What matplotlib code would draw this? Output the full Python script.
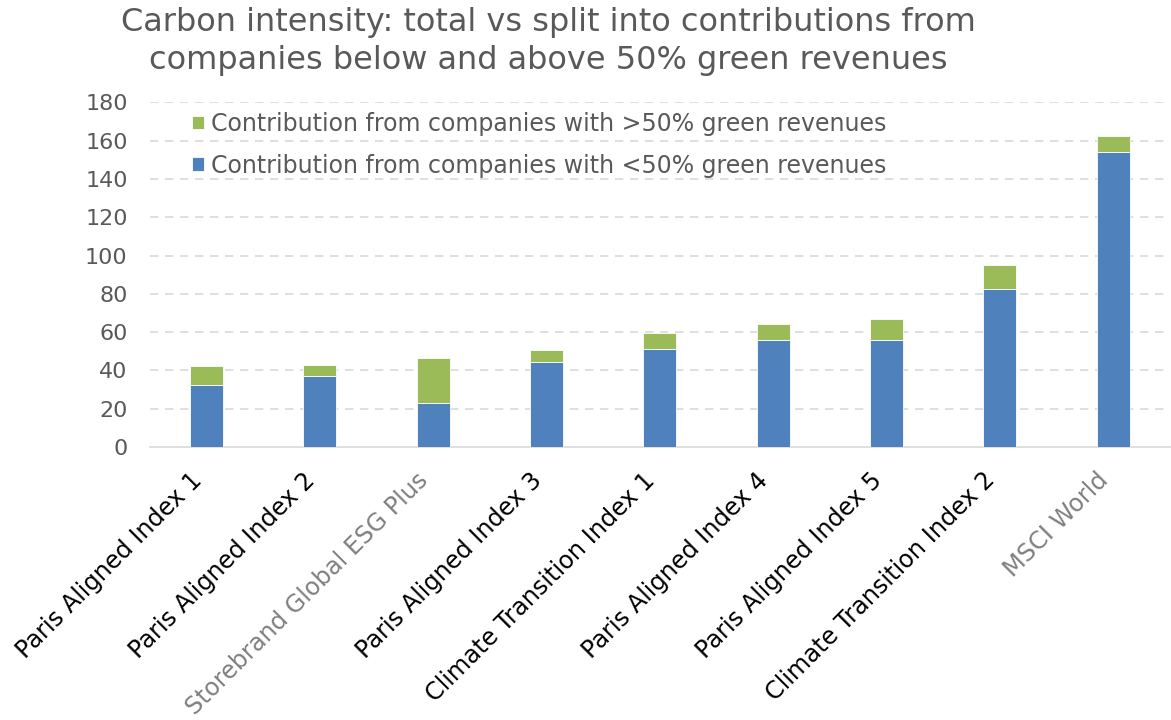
import matplotlib
matplotlib.use("Agg")
import matplotlib.pyplot as plt
import numpy as np

categories = ["Paris Aligned Index 1", "Paris Aligned Index 2", "Storebrand Global ESG Plus",
              "Paris Aligned Index 3", "Climate Transition Index 1", "Paris Aligned Index 4",
              "Paris Aligned Index 5", "Climate Transition Index 2", "MSCI World"]
below_50 = [32.5, 37.0, 22.8, 44.3, 51.1, 55.7, 55.7, 82.3, 154.1]
above_50 = [10.0, 6.1, 23.8, 6.3, 8.4, 8.3, 11.3, 13.0, 8.5]
label_colors = ["black", "black", "#7f7f7f", "black", "black", "black", "black", "black", "#7f7f7f"]
yticks = [0, 20, 40, 60, 80, 100, 120, 140, 160, 180]

plt.rcParams['font.family'] = ['DejaVu Sans']
fig = plt.figure(figsize=(11.71, 7.2), dpi=100)
ax = fig.add_axes([0.128, 0.379, 0.871, 0.479])

x = np.arange(len(categories))
w = 0.29
ax.bar(x, below_50, width=w, color="#4f81bd", edgecolor="white", linewidth=0.6,
       label="Contribution from companies with <50% green revenues", zorder=3)
ax.bar(x, above_50, width=w, bottom=below_50, color="#9bbb59", edgecolor="white", linewidth=0.6,
       label="Contribution from companies with >50% green revenues", zorder=3)

ax.set_xlim(-0.5, len(categories) - 0.5)
ax.set_ylim(0, 180)
ax.set_yticks(yticks)
ax.set_yticklabels([str(t) for t in yticks], fontsize=16, color="#595959")
for t in yticks[1:]:
    ax.axhline(t, color="#d9d9d9", linestyle=(0, (5, 4)), linewidth=1.2, zorder=1)
for s in ["top", "right", "left"]:
    ax.spines[s].set_visible(False)
ax.spines["bottom"].set_color("#d9d9d9")
ax.spines["bottom"].set_linewidth(1.2)
ax.tick_params(axis="y", length=0, pad=16)
ax.tick_params(axis="x", length=0, pad=15)

ax.set_xticks(x)
ax.set_xticklabels(categories, rotation=45, ha="right", va="top", rotation_mode="default", fontsize=17.3)
for lbl, c in zip(ax.get_xticklabels(), label_colors):
    lbl.set_color(c)

handles, labels = ax.get_legend_handles_labels()
leg = ax.legend(handles[::-1], labels[::-1], loc="upper left", bbox_to_anchor=(0.025, 1.02),
                frameon=False, fontsize=17, labelcolor="#595959", handlelength=0.5,
                handleheight=0.5, handletextpad=0.3, labelspacing=0.75, borderpad=0.2)

fig.text(0.468, 0.99, "Carbon intensity: total vs split into contributions from\ncompanies below and above 50% green revenues",
         ha="center", va="top", fontsize=23, color="#595959", linespacing=1.3)

fig.savefig("out.png", dpi=100)
